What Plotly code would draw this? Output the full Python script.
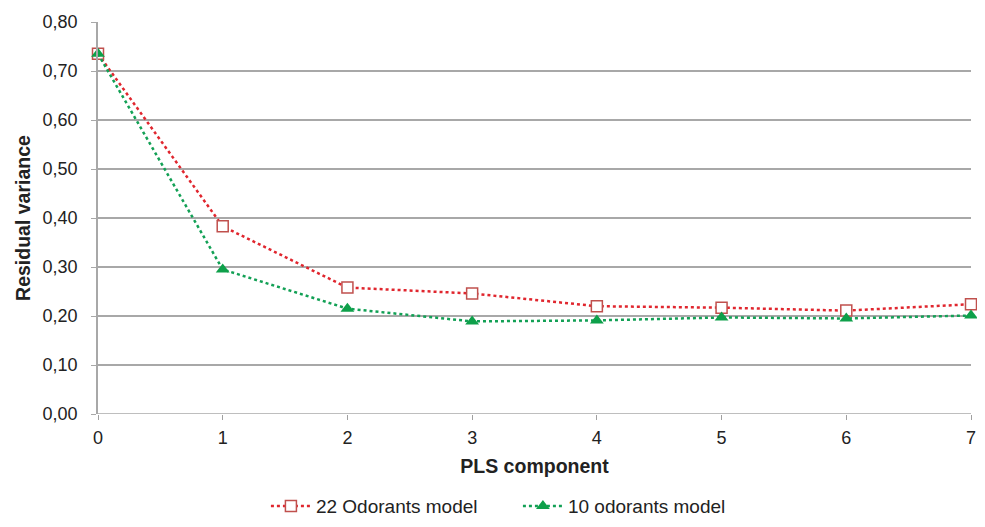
import plotly.graph_objects as go

components = [0, 1, 2, 3, 4, 5, 6, 7]
odorants22 = [0.735, 0.383, 0.258, 0.246, 0.220, 0.217, 0.211, 0.224]
odorants10 = [0.735, 0.295, 0.215, 0.189, 0.191, 0.197, 0.195, 0.201]
y_ticks = [0.0, 0.1, 0.2, 0.3, 0.4, 0.5, 0.6, 0.7, 0.8]
y_tick_labels = ["0,00", "0,10", "0,20", "0,30", "0,40", "0,50", "0,60", "0,70", "0,80"]

fig = go.Figure()
fig.add_trace(go.Scatter(
    x=components, y=odorants22, name="22 Odorants model", mode="lines+markers",
    line=dict(color="#e0262e", width=2.5, dash="dot"),
    marker=dict(symbol="square", size=11, color="white", line=dict(color="#c0504d", width=1.5)),
    cliponaxis=False,
))
fig.add_trace(go.Scatter(
    x=components, y=odorants10, name="10 odorants model", mode="lines+markers",
    line=dict(color="#12a055", width=2.5, dash="dot"),
    marker=dict(symbol="triangle-up", size=12, color="#0ea04a"),
    cliponaxis=False,
))

font = "Liberation Sans, Arial, sans-serif"
fig.update_layout(
    width=969, height=511,
    margin=dict(l=90, r=6, t=14, b=105),
    paper_bgcolor="white", plot_bgcolor="white",
    font=dict(family=font, size=18, color="#222"),
    xaxis=dict(
        range=[0, 7], tickvals=components, showgrid=False, zeroline=False,
        ticks="outside", ticklen=5, tickcolor="#a0a0a0",
        title=dict(text="<b>PLS component</b>", font=dict(size=19.5), standoff=12),
        tickfont=dict(size=18), automargin=False, ticklabeloverflow="allow",
        ticklabelstandoff=2,
    ),
    yaxis=dict(
        range=[0, 0.8], tickvals=y_ticks, ticktext=y_tick_labels,
        showgrid=True, gridcolor="#a8a8a8", gridwidth=1.5,
        zeroline=False, showline=True, linecolor="#a8a8a8", linewidth=1.5,
        ticks="outside", ticklen=5, tickcolor="#a8a8a8",
        title=dict(text="<b>Residual variance</b>", font=dict(size=19.5), standoff=7),
        tickfont=dict(size=18), automargin=False, ticklabeloverflow="allow",
        ticklabelstandoff=10,
    ),
    legend=dict(orientation="h", x=0.481, xanchor="center",
                yref="container", y=0.025, yanchor="middle",
                font=dict(size=19), itemwidth=40, entrywidth=197),
    showlegend=True,
)
fig.add_shape(type="line", xref="paper", yref="y", x0=0, x1=1, y0=0, y1=0,
              line=dict(color="#a8a8a8", width=1.5))
fig.write_html("out.html")
